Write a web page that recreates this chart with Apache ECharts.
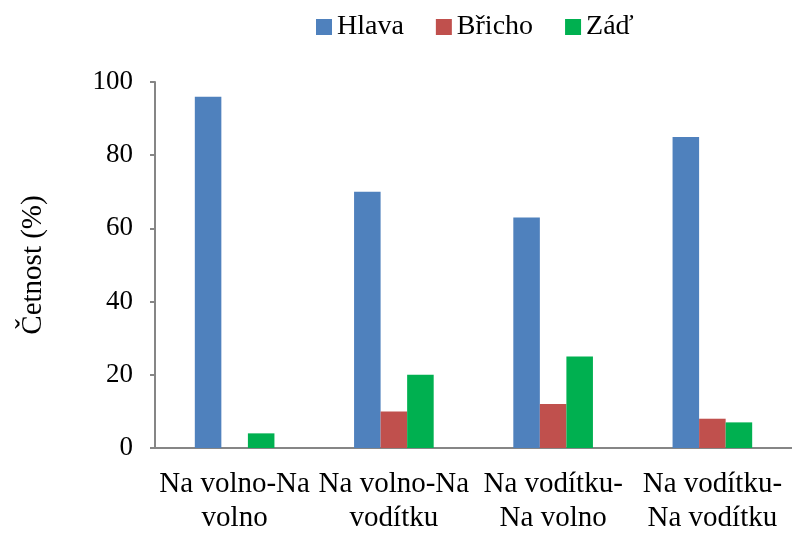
<!DOCTYPE html>
<html lang="cs">
<head>
<meta charset="UTF-8">
<title>Četnost</title>
<script src="https://cdn.jsdelivr.net/npm/echarts@6/dist/echarts.min.js"></script>
<style>
  html, body { margin: 0; padding: 0; background: #fff; }
  #main { width: 792px; height: 537px; }
</style>
</head>
<body>
<div id="main"></div>
<script>
// data
var categories = ['Na volno-Na\nvolno', 'Na volno-Na\nvodítku', 'Na vodítku-\nNa volno', 'Na vodítku-\nNa vodítku'];
var hlava = [96, 70, 63, 85];
var bricho = [0, 10, 12, 8];
var zad = [4, 20, 25, 7];
var yTicks = [0, 20, 40, 60, 80, 100];

var font = '"Liberation Serif", "DejaVu Serif", serif';
var axisGrey = '#868686';

var myChart = echarts.init(document.getElementById('main'));

var option = {
    animation: false,
    textStyle: { fontFamily: font },
    legend: {
        top: 8,
        left: 311,
        itemWidth: 16,
        itemHeight: 16,
        itemGap: 32,
        icon: 'rect',
        textStyle: { fontFamily: font, fontSize: 28, color: '#000' },
        data: ['Hlava', 'Břicho', 'Záď']
    },
    grid: { left: 155, right: -3, top: 82, bottom: 89 },
    xAxis: {
        type: 'category',
        data: categories,
        axisLine: { lineStyle: { color: axisGrey, width: 2 } },
        axisTick: { show: false },
        axisLabel: {
            color: '#000', fontFamily: font, fontSize: 29,
            lineHeight: 34, margin: 19, interval: 0
        }
    },
    yAxis: {
        type: 'value',
        min: yTicks[0],
        max: yTicks[yTicks.length - 1],
        interval: 20,
        name: 'Četnost (%)',
        nameLocation: 'middle',
        nameGap: 107,
        nameTextStyle: { color: '#000', fontFamily: font, fontSize: 29 },
        axisLine: { show: true, lineStyle: { color: axisGrey, width: 2 } },
        axisTick: { show: true, length: 5, lineStyle: { color: axisGrey, width: 2 } },
        splitLine: { show: false },
        axisLabel: { color: '#000', fontFamily: font, fontSize: 27, margin: 22 }
    },
    series: [
        { name: 'Hlava', type: 'bar', data: hlava, barGap: '0%', barCategoryGap: '50%', itemStyle: { color: '#4F81BD' } },
        { name: 'Břicho', type: 'bar', data: bricho, barGap: '0%', barCategoryGap: '50%', itemStyle: { color: '#C0504D' } },
        { name: 'Záď', type: 'bar', data: zad, barGap: '0%', barCategoryGap: '50%', itemStyle: { color: '#00B050' } }
    ]
};

myChart.setOption(option);
</script>
</body>
</html>
